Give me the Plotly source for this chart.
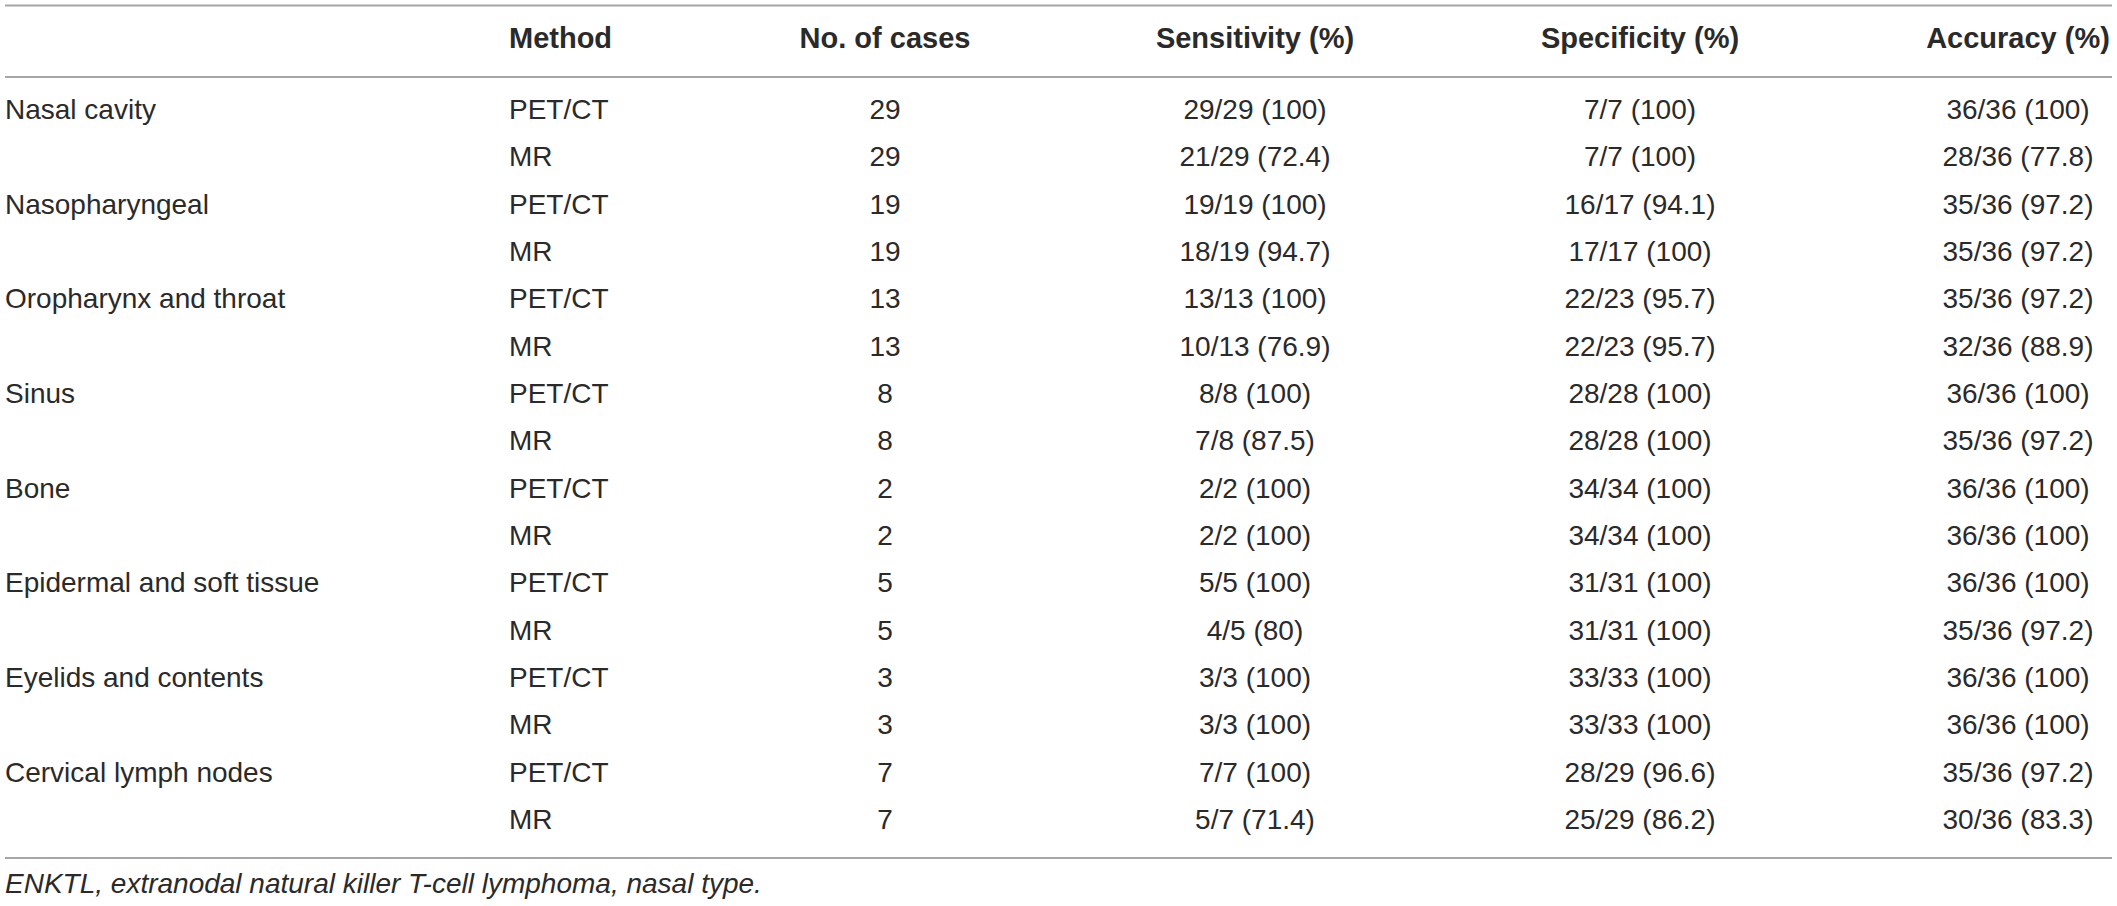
import plotly.graph_objects as go

# table content
headers = ["", "Method", "No. of cases", "Sensitivity (%)", "Specificity (%)", "Accuracy (%)"]
sites = ["Nasal cavity", "Nasopharyngeal", "Oropharynx and throat", "Sinus", "Bone",
         "Epidermal and soft tissue", "Eyelids and contents", "Cervical lymph nodes"]
methods = ["PET/CT", "MR"]
cases = [29, 29, 19, 19, 13, 13, 8, 8, 2, 2, 5, 5, 3, 3, 7, 7]
sensitivity = ["29/29 (100)", "21/29 (72.4)", "19/19 (100)", "18/19 (94.7)",
               "13/13 (100)", "10/13 (76.9)", "8/8 (100)", "7/8 (87.5)",
               "2/2 (100)", "2/2 (100)", "5/5 (100)", "4/5 (80)",
               "3/3 (100)", "3/3 (100)", "7/7 (100)", "5/7 (71.4)"]
specificity = ["7/7 (100)", "7/7 (100)", "16/17 (94.1)", "17/17 (100)",
               "22/23 (95.7)", "22/23 (95.7)", "28/28 (100)", "28/28 (100)",
               "34/34 (100)", "34/34 (100)", "31/31 (100)", "31/31 (100)",
               "33/33 (100)", "33/33 (100)", "28/29 (96.6)", "25/29 (86.2)"]
accuracy = ["36/36 (100)", "28/36 (77.8)", "35/36 (97.2)", "35/36 (97.2)",
            "35/36 (97.2)", "32/36 (88.9)", "36/36 (100)", "35/36 (97.2)",
            "36/36 (100)", "36/36 (100)", "36/36 (100)", "35/36 (97.2)",
            "36/36 (100)", "36/36 (100)", "35/36 (97.2)", "30/36 (83.3)"]
footnote = "ENKTL, extranodal natural killer T-cell lymphoma, nasal type."

W, H = 2117, 906
ROW0, ROWH = 112, 47.33          # pixel centre of first body row, row pitch
TXT = "#2a2a2a"
RULE = "#a6a6a6"
FONT = "Liberation Sans, Arial, Helvetica, sans-serif"
FS = 28


def py(pix):
    # pixel row -> data value on the row-index axis
    return (pix - ROW0) / ROWH


n_rows = len(cases)
rows = list(range(n_rows))
site_col = [sites[i // 2] if i % 2 == 0 else "" for i in rows]
method_col = [methods[i % 2] for i in rows]

# column anchors (x pixel, alignment)
cols = [
    (5, "middle right", site_col),
    (509, "middle right", method_col),
    (885, "middle center", [str(c) for c in cases]),
    (1255, "middle center", sensitivity),
    (1640, "middle center", specificity),
    (2018, "middle center", accuracy),
]

fig = go.Figure()

for (x, pos, vals), head in zip(cols, headers):
    fig.add_trace(go.Scatter(
        x=[x] * n_rows, y=rows, mode="text", text=vals, textposition=pos,
        textfont=dict(family=FONT, size=FS, color=TXT),
        hoverinfo="skip", showlegend=False, cliponaxis=False,
    ))
    fig.add_trace(go.Scatter(
        x=[x], y=[py(41)], mode="text", text=[f"<b>{head}</b>"], textposition=pos,
        textfont=dict(family=FONT, size=29, color=TXT),
        hoverinfo="skip", showlegend=False, cliponaxis=False,
    ))

fig.add_trace(go.Scatter(
    x=[5], y=[py(886)], mode="text", text=[f"<i>{footnote}</i>"],
    textposition="middle right",
    textfont=dict(family=FONT, size=FS, color=TXT),
    hoverinfo="skip", showlegend=False, cliponaxis=False,
))

for yp in (5.5, 77, 858):
    fig.add_shape(type="line", x0=5, x1=2112, y0=py(yp), y1=py(yp),
                  line=dict(color=RULE, width=2))

fig.update_xaxes(range=[0, W], visible=False, fixedrange=True)
fig.update_yaxes(range=[py(H), py(0)], visible=False, fixedrange=True)
fig.update_layout(
    width=W, height=H,
    margin=dict(l=0, r=0, t=0, b=0),
    paper_bgcolor="white", plot_bgcolor="white",
)

fig.write_html("out.html", config={"displayModeBar": False},
               post_script="document.body.style.margin='0';document.body.style.overflow='hidden';")
